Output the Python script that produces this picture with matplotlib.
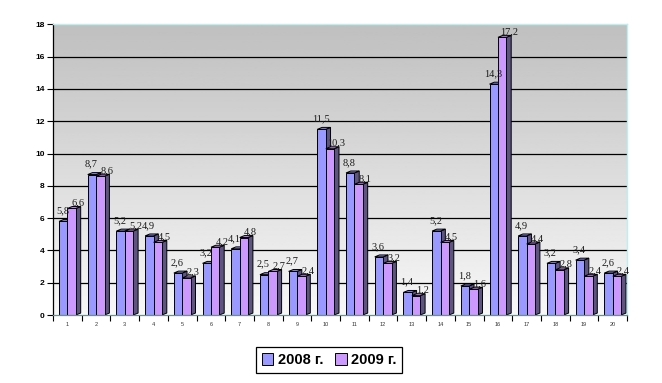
import numpy as np
import matplotlib
matplotlib.use('Agg')
import matplotlib.pyplot as plt
from matplotlib.patches import Polygon, Patch

categories = [str(i) for i in range(1, 21)]
vals_2008 = [5.8, 8.7, 5.2, 4.9, 2.6, 3.2, 4.1, 2.5, 2.7, 11.5,
             8.8, 3.6, 1.4, 5.2, 1.8, 14.3, 4.9, 3.2, 3.4, 2.6]
vals_2009 = [6.6, 8.6, 5.2, 4.5, 2.3, 4.2, 4.8, 2.7, 2.4, 10.3,
             8.1, 3.2, 1.2, 4.5, 1.6, 17.2, 4.4, 2.8, 2.4, 2.4]
series_names = ['2008 г.', '2009 г.']
y_ticks = list(range(0, 19, 2))

c_2008 = '#9999ff'
c_2009 = '#cc99ff'
c_side = '#5e5480'
top_2008 = '#8a8ae6'
top_2009 = '#b98ae6'

fig = plt.figure(figsize=(6.62, 3.83), dpi=100)
ax = fig.add_axes([53 / 662, 1 - 315 / 383, 574 / 662, 290.6 / 383])
n = len(categories)
ax.set_xlim(0, n)
ax.set_ylim(0, 18)

# gray gradient back wall
grad = np.linspace(0.97, 0.75, 256).reshape(-1, 1)
ax.imshow(grad, extent=[0, n, 0, 18], origin='lower', aspect='auto',
          cmap='gray', vmin=0, vmax=1, zorder=0)
for yv in y_ticks[1:-1]:
    ax.axhline(yv, color='black', lw=0.9, zorder=1)

bw = 0.295
dx, dy = 0.165, 0.12


def box(x0, h, front, top):
    x1 = x0 + bw
    ax.add_patch(Polygon([(x1, 0), (x1 + dx, dy), (x1 + dx, h + dy), (x1, h)],
                         closed=True, fc=c_side, ec='black', lw=0.7, zorder=2))
    ax.add_patch(Polygon([(x0, h), (x1, h), (x1 + dx, h + dy), (x0 + dx, h + dy)],
                         closed=True, fc=top, ec='black', lw=0.7, zorder=2))
    ax.add_patch(Polygon([(x0, 0), (x1, 0), (x1, h), (x0, h)],
                         closed=True, fc=front, ec='black', lw=0.7, zorder=2))


lab_font = dict(family='Liberation Serif', fontsize=7.5, color='#1a1a1a',
                ha='center', va='center', zorder=5)
for i in range(n):
    xa = i + 0.21
    xb = xa + bw
    box(xa, vals_2008[i], c_2008, top_2008)
    box(xb, vals_2009[i], c_2009, top_2009)
    ax.text(xa + 0.12, vals_2008[i] + 0.65, f'{vals_2008[i]:.1f}'.replace('.', ','), **lab_font)
    ax.text(xb + bw + 0.08, vals_2009[i] + 0.35, f'{vals_2009[i]:.1f}'.replace('.', ','), **lab_font)

ax.set_yticks(y_ticks)
ax.set_yticklabels([str(v) for v in y_ticks], fontsize=6, fontweight='bold',
                   family='Liberation Sans')
ax.set_xticks(np.arange(0, n + 1))
ax.set_xticklabels([])
ax.set_xticks(np.arange(n) + 0.5, minor=True)
ax.set_xticklabels(categories, minor=True, fontsize=4, color='#333333',
                   family='Liberation Sans')
ax.tick_params(axis='x', which='minor', length=0, pad=5)
ax.tick_params(axis='x', which='major', length=4, width=0.8, direction='out')
ax.tick_params(axis='y', length=4, width=0.8, direction='out', pad=2)

for s in ['top', 'right']:
    ax.spines[s].set_color('#bfeeee')
    ax.spines[s].set_linewidth(1)
ax.spines['left'].set_color('black')
ax.spines['left'].set_linewidth(0.9)
ax.spines['bottom'].set_color('#6f8f8f')
ax.spines['bottom'].set_linewidth(0.9)

handles = [Patch(fc=c_2008, ec='black', lw=0.7), Patch(fc=c_2009, ec='black', lw=0.7)]
leg = fig.legend(handles, series_names, loc='center', bbox_to_anchor=(0.497, 0.06),
                 ncol=2, fancybox=False, edgecolor='black', framealpha=1,
                 handlelength=0.8, handleheight=0.8, handletextpad=0.3,
                 columnspacing=0.8, borderpad=0.4,
                 prop=dict(family='Liberation Sans', weight='bold', size=10.5))
leg.get_frame().set_linewidth(0.9)

fig.savefig('out.png', dpi=100)
plt.close(fig)
